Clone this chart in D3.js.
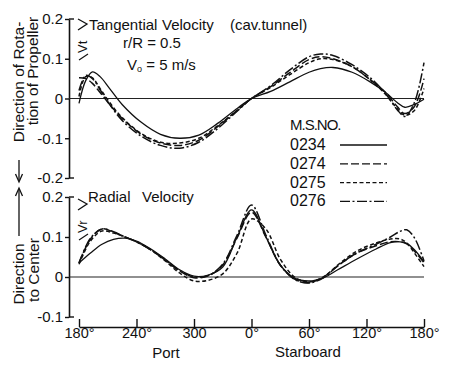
<!DOCTYPE html>
<html><head><meta charset="utf-8">
<script src="https://cdn.jsdelivr.net/npm/d3@7"></script>
<style>
html,body{margin:0;padding:0;background:#fff;}
text{font-family:"Liberation Sans",Arial,Helvetica,sans-serif;fill:#111;}
</style></head>
<body><svg id="c" width="449" height="365"></svg>
<script>
// ---------- data ----------
const seriesNames = ["0234", "0274", "0275", "0276"];
const xTickValues = [180, 240, 300, 360, 420, 480, 540];
const xTickLabels = ["180°", "240°", "300", "0°", "60°", "120°", "180°"];
const topTickValues = [0.2, 0.1, 0, -0.1, -0.2];
const topTickLabels = ["0.2", "0.1", "0", "-0.1", "-0.2"];
const botTickValues = [0.2, 0.1, 0, -0.1];
const botTickLabels = ["0.2", "0.1", "0", "-0.1"];

// Tangential velocity (top)
const tanAngles = [180,187,194,202,212,225,245,265,285,305,325,345,360,380,400,420,432,445,465,485,500,512,520,530,540];
const tan0234 = [-0.012,0.045,0.067,0.055,0.025,-0.015,-0.06,-0.09,-0.1,-0.092,-0.062,-0.025,0.0,0.018,0.042,0.066,0.075,0.078,0.066,0.04,0.015,-0.01,-0.022,-0.015,-0.002];
const tan0274 = [0.052,0.05,0.038,0.015,-0.015,-0.05,-0.09,-0.112,-0.118,-0.105,-0.07,-0.03,0.0,0.03,0.065,0.098,0.105,0.1,0.08,0.045,0.015,-0.02,-0.038,-0.02,0.05];
const tan0275 = [0.005,0.055,0.052,0.025,-0.01,-0.048,-0.088,-0.11,-0.112,-0.1,-0.068,-0.03,0.0,0.028,0.06,0.09,0.1,0.098,0.08,0.045,0.01,-0.025,-0.042,-0.03,0.025];
const tan0276 = [0.02,0.058,0.05,0.022,-0.015,-0.055,-0.095,-0.118,-0.125,-0.11,-0.075,-0.032,0.0,0.032,0.072,0.105,0.112,0.108,0.085,0.05,0.012,-0.028,-0.045,-0.01,0.09];

// Radial velocity (bottom)
const radAngles = [180,192,204,216,228,240,255,270,285,300,315,330,345,360,375,390,405,420,435,450,470,490,505,515,522,530,540];
const rad0234 = [0.035,0.06,0.082,0.094,0.097,0.09,0.07,0.045,0.018,0.002,0.005,0.025,0.1,0.168,0.1,0.03,-0.003,-0.01,-0.002,0.018,0.045,0.07,0.086,0.088,0.084,0.068,0.038];
const rad0274 = [0.035,0.095,0.12,0.112,0.1,0.088,0.068,0.042,0.015,-0.002,0.003,0.03,0.098,0.162,0.1,0.03,-0.005,-0.014,0.0,0.028,0.06,0.078,0.088,0.088,0.083,0.065,0.036];
const rad0275 = [0.032,0.09,0.115,0.11,0.1,0.088,0.068,0.04,0.01,-0.01,-0.008,0.008,0.06,0.145,0.12,0.045,0.0,-0.012,0.0,0.03,0.065,0.085,0.095,0.095,0.085,0.06,0.026];
const rad0276 = [0.035,0.097,0.12,0.113,0.1,0.088,0.068,0.043,0.016,0.0,0.004,0.032,0.105,0.18,0.105,0.03,-0.006,-0.015,-0.002,0.028,0.06,0.082,0.1,0.114,0.118,0.098,0.04];

const tanSeries = [tan0234, tan0274, tan0275, tan0276];
const radSeries = [rad0234, rad0274, rad0275, rad0276];
const dashes = [null, "8,3", "4,2.5", "10,2.5,2,2.5"];

// ---------- drawing ----------
const svg = d3.select("#c");
const x = d3.scaleLinear().domain([180, 540]).range([79, 424]);
const yT = d3.scaleLinear().domain([-0.2, 0.2]).range([178, 19]);
const yB = d3.scaleLinear().domain([-0.1, 0.2]).range([317, 197]);
const axX = 69;

function drawPanel(yS, ticks, labels, angles, series) {
  const ax = svg.append("g").attr("transform", `translate(${axX},0)`)
    .call(d3.axisLeft(yS).tickValues(ticks).tickSize(4).tickSizeOuter(0)
      .tickFormat((d, i) => labels[i]).tickPadding(2));
  ax.select(".domain").attr("stroke", "#111").attr("stroke-width", 1.6);
  ax.selectAll(".tick line").attr("stroke", "#111").attr("stroke-width", 1.4);
  ax.selectAll(".tick text").style("font-size", "15px").attr("fill", "#111");
  [ticks[0], ticks[ticks.length - 1]].forEach(v => {
    svg.append("line").attr("x1", axX).attr("x2", axX + 5)
      .attr("y1", yS(v)).attr("y2", yS(v)).attr("stroke", "#111").attr("stroke-width", 1.4);
  });
  svg.append("line").attr("x1", axX).attr("x2", 424)
    .attr("y1", yS(0)).attr("y2", yS(0)).attr("stroke", "#222").attr("stroke-width", 1.1);
  const line = d3.line().x((d, i) => x(angles[i])).y(d => yS(d)).curve(d3.curveCatmullRom.alpha(0.5));
  series.forEach((s, k) => {
    svg.append("path").attr("d", line(s)).attr("fill", "none")
      .attr("stroke", "#111").attr("stroke-width", k === 0 ? 1.3 : 1.5)
      .attr("stroke-dasharray", dashes[k]);
  });
}

drawPanel(yT, topTickValues, topTickLabels, tanAngles, tanSeries);
drawPanel(yB, botTickValues, botTickLabels, radAngles, radSeries);

// bottom x axis
const xa = svg.append("g").attr("transform", "translate(0,327)")
  .call(d3.axisBottom(x).tickValues(xTickValues).tickSize(-8).tickSizeOuter(0)
    .tickFormat((d, i) => xTickLabels[i]).tickPadding(1));
xa.select(".domain").attr("stroke", "#111").attr("stroke-width", 1.6);
xa.selectAll(".tick line").attr("stroke", "#111").attr("stroke-width", 1.4);
xa.selectAll(".tick text").style("font-size", "14.5px").attr("fill", "#111").attr("dy", "0.68em");

svg.append("text").attr("x", 166).attr("y", 358).attr("text-anchor", "middle").style("font-size", "15px").text("Port");
svg.append("text").attr("x", 308).attr("y", 357).attr("text-anchor", "middle").style("font-size", "15px").text("Starboard");

// titles
function txt(xp, yp, t, fs) {
  return svg.append("text").attr("x", xp).attr("y", yp).style("font-size", (fs || 15) + "px").text(t);
}
txt(89, 30, "Tangential");
txt(162, 30, "Velocity");
txt(230, 30, "(cav.tunnel)");
txt(123, 48, "r/R = 0.5");
const v0 = svg.append("text").attr("x", 127).attr("y", 70).style("font-size", "15px");
v0.append("tspan").text("V");
v0.append("tspan").attr("dy", 2).style("font-size", "9px").text("o");
v0.append("tspan").attr("dy", -2).text(" = 5 m/s");
txt(88, 202, "Radial");
txt(142, 202, "Velocity");

// V symbols
function vSym(cx, y0, sub) {
  svg.append("path").attr("d", `M${cx-4},${y0} L${cx+5},${y0+5} L${cx-4},${y0+11}`)
    .attr("fill", "none").attr("stroke", "#111").attr("stroke-width", 1.3);
  svg.append("text").attr("transform", `translate(${cx+5},${y0+34}) rotate(-90)`)
    .style("font-size", "13px").text("V" + sub);
  svg.append("path").attr("d", `M${cx+6},${y0+35} L${cx-3},${y0+41}`)
    .attr("fill", "none").attr("stroke", "#111").attr("stroke-width", 1.2);
}
vSym(82, 19, "t");
vSym(82, 199, "r");

// y labels
function vText(xb, yc, t) {
  svg.append("text").attr("transform", `translate(${xb},${yc}) rotate(-90)`)
    .attr("text-anchor", "middle").style("font-size", "15.5px").text(t);
}
vText(24, 82, "Direction of Rota-");
vText(38, 71, "tion of Propeller");
vText(24, 274, "Direction");
vText(39, 270, "to Center");
// arrows
svg.append("line").attr("x1", 19).attr("x2", 19).attr("y1", 160).attr("y2", 180).attr("stroke", "#111").attr("stroke-width", 1.3);
svg.append("path").attr("d", "M15.5,174 L19,182 L22.5,174").attr("fill", "none").attr("stroke", "#111").attr("stroke-width", 1.3);
svg.append("line").attr("x1", 19).attr("x2", 19).attr("y1", 190).attr("y2", 236).attr("stroke", "#111").attr("stroke-width", 1.3);
svg.append("path").attr("d", "M15.5,196 L19,188 L22.5,196").attr("fill", "none").attr("stroke", "#111").attr("stroke-width", 1.3);

// legend
svg.append("text").attr("x", 290).attr("y", 130).style("font-size", "15px").style("letter-spacing", "-1px").text("M.S.NO.");
seriesNames.forEach((n, k) => {
  const yy = 150 + k * 18.8;
  svg.append("text").attr("x", 290).attr("y", yy).style("font-size", "16px").text(n);
  svg.append("line").attr("x1", 340).attr("x2", 387).attr("y1", yy - 5).attr("y2", yy - 5)
    .attr("stroke", "#111").attr("stroke-width", 1.3).attr("stroke-dasharray", dashes[k]);
});
</script></body></html>
